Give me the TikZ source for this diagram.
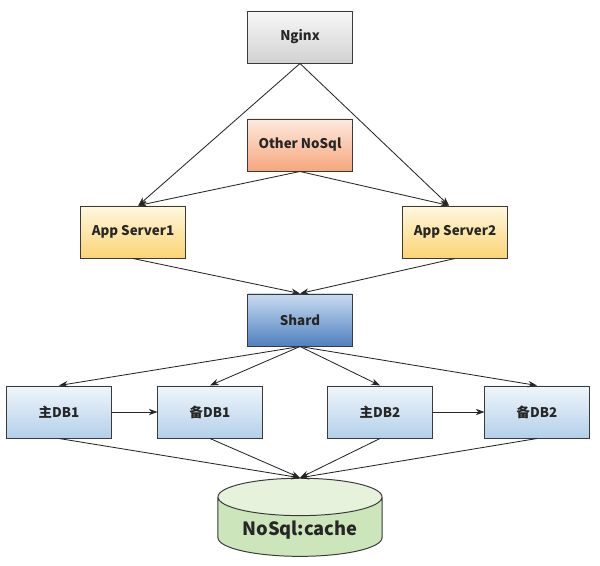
\documentclass[tikz,border=0pt]{standalone}
\usepackage{fontspec}
\setmainfont{Noto Sans CJK SC}
\usetikzlibrary{shapes.geometric,arrows.meta}
\definecolor{edge}{HTML}{3A3A3A}
\definecolor{nginxtop}{HTML}{F7F7F7}
\definecolor{nginxbot}{HTML}{D2D2D2}
\definecolor{othertop}{HTML}{FDEADF}
\definecolor{otherbot}{HTML}{F6A67C}
\definecolor{apptop}{HTML}{FFF8DE}
\definecolor{appbot}{HTML}{FBD475}
\definecolor{shardtop}{HTML}{C9DBF1}
\definecolor{shardbot}{HTML}{4F80C0}
\definecolor{dbtop}{HTML}{F0F6FB}
\definecolor{dbbot}{HTML}{B4CFEA}
\definecolor{cachebody}{HTML}{CCE5BA}
\definecolor{cacheend}{HTML}{E7F2DD}
\tikzset{
  box/.style={draw=edge, line width=0.7pt, minimum width=2.6cm, minimum height=1.3cm,
    font=\fontsize{9.5}{11}\selectfont\bfseries, text=black!85},
  link/.style={-{Stealth[length=2.2mm,width=1.6mm]}, line width=0.6pt, black!85}
}
\begin{document}
\begin{tikzpicture}[x=0.025cm, y=-0.025cm]
  \useasboundingbox (0,0) rectangle (600,566);
  % front
  \node[box, top color=nginxtop, bottom color=nginxbot] (nginx) at (300,37) {Nginx};
  \node[box, top color=othertop, bottom color=otherbot] (other) at (300,145) {Other NoSql};
  \node[box, top color=apptop, bottom color=appbot] (app1) at (133,232) {App Server1};
  \node[box, top color=apptop, bottom color=appbot] (app2) at (455,232) {App Server2};
  \node[box, top color=shardtop, bottom color=shardbot] (shard) at (300,320) {Shard};
  % databases
  \foreach \x / \n / \t in {59/m1/主DB1, 210/s1/备DB1, 380/m2/主DB2, 537/s2/备DB2} {
    \node[box, top color=dbtop, bottom color=dbbot] (\n) at (\x,412) {\t};
  }
  \node[cylinder, shape border rotate=90, aspect=0.3, draw=edge, line width=0.7pt,
    minimum width=4.1cm, minimum height=1.63cm,
    cylinder uses custom fill, cylinder body fill=cachebody, cylinder end fill=cacheend,
    font=\fontsize{13}{15}\selectfont\bfseries, text=black!85] (cache) at (300,530) {NoSql:cache};
  % connectors
  \draw[link] (nginx.south) -- ([xshift=0.13cm]app1.north);
  \draw[link] (nginx.south) -- ([xshift=-0.15cm]app2.north);
  \draw[link] (other.south) -- ([xshift=0.13cm]app1.north);
  \draw[link] (other.south) -- ([xshift=-0.15cm]app2.north);
  \draw[link] (app1.south) -- (shard.north);
  \draw[link] (app2.south) -- (shard.north);
  \foreach \n in {m1, s1, m2, s2} {
    \draw[link] (shard.south) -- (\n.north);
    \draw[link] (\n.south) -- (cache.top);
  }
  \draw[link] (m1) -- (s1);
  \draw[link] (m2) -- (s2);
\end{tikzpicture}
\end{document}
